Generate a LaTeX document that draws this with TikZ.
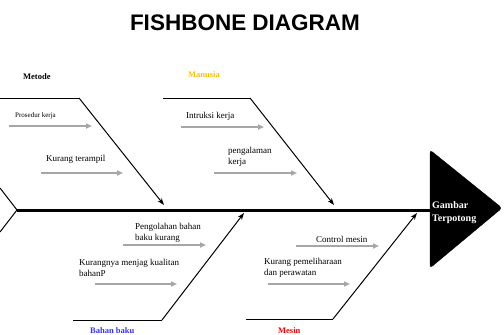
\documentclass[tikz,border=0pt]{standalone}
\usepackage{fontspec}
\setmainfont{Liberation Serif}
\newfontfamily\arialfont{Liberation Sans}
\usetikzlibrary{arrows.meta}
\definecolor{causegray}{HTML}{A6A6A6}
\definecolor{manorange}{HTML}{FFC000}
\definecolor{bahanblue}{HTML}{3333FF}
\definecolor{mesinred}{HTML}{FF0000}
\begin{document}
\begin{tikzpicture}[x=1pt,y=-1pt,
  bone/.style={line width=1pt, -{Stealth[length=7pt,width=5pt]}},
  plain/.style={line width=1pt},
  cause/.style={draw=causegray, line width=1.6pt, -{Triangle[length=6pt,width=5pt]}},
  lbl/.style={font=\fontsize{9}{10.5}\selectfont, inner sep=0pt, anchor=west, align=left},
  cat/.style={font=\fontsize{8.5}{10}\selectfont\bfseries, inner sep=0pt, anchor=west}]
\useasboundingbox (0,0) rectangle (504,335);

% title
\node[font=\arialfont\bfseries\fontsize{22.5}{26}\selectfont, inner sep=0pt] (title) at (245,23) {FISHBONE DIAGRAM};

% head
\draw[fill=black, rounded corners=3pt] (430,150) -- (502,208) -- (430,268) -- cycle;
\coordinate (head) at (430,210);
\node[font=\fontsize{10}{13}\selectfont\bfseries, text=white, align=left, anchor=west, inner sep=0pt] (effect) at (432,213) {Gambar\\Terpotong};

% spine and tail
\coordinate (tail) at (17,210);
\draw[line width=3pt] (tail) -- (head);
\coordinate (tu) at (0,188);
\coordinate (tb) at (0,232);
\draw[plain] (tu) -- (tail) -- (tb);

% Metode bone
\coordinate (m0) at (0,98);
\coordinate (m1) at (79,98);
\coordinate (m2) at (164,205);
\draw[plain] (m0) -- (m1);
\draw[bone] (m1) -- (m2);
\node[cat] (metode) at (23,77) {Metode};

% Manusia bone
\coordinate (h0) at (163,98);
\coordinate (h1) at (250,98);
\coordinate (h2) at (334,205);
\draw[plain] (h0) -- (h1);
\draw[bone] (h1) -- (h2);
\node[cat, text=manorange] (manusia) at (188,75) {Manusia};

% Bahan baku bone
\coordinate (b0) at (73,320);
\coordinate (b1) at (162,320);
\coordinate (b2) at (244,213);
\draw[plain] (b0) -- (b1);
\draw[bone] (b1) -- (b2);
\node[cat, text=bahanblue] (bahan) at (90,331) {Bahan baku};

% Mesin bone
\coordinate (s0) at (246,319);
\coordinate (s1) at (333,319);
\coordinate (s2) at (417,213);
\draw[plain] (s0) -- (s1);
\draw[bone] (s1) -- (s2);
\node[cat, text=mesinred] (mesin) at (278,331) {Mesin};

% causes: Metode
\node[lbl, font=\fontsize{7}{8}\selectfont] (c1) at (15,116) {Prosedur kerja};
\coordinate (c1a) at (9,126); \coordinate (c1b) at (92,126);
\draw[cause] (c1a) -- (c1b);
\node[lbl] (c2) at (46,159) {Kurang terampil};
\coordinate (c2a) at (41,173); \coordinate (c2b) at (123,173);
\draw[cause] (c2a) -- (c2b);

% causes: Manusia
\node[lbl] (c3) at (186,116) {Intruksi kerja};
\coordinate (c3a) at (181,127); \coordinate (c3b) at (264,127);
\draw[cause] (c3a) -- (c3b);
\node[lbl] (c4) at (228,157) {pengalaman\\kerja};
\coordinate (c4a) at (214,173); \coordinate (c4b) at (297,173);
\draw[cause] (c4a) -- (c4b);

% causes: Bahan baku
\node[lbl] (c5) at (135,233) {Pengolahan bahan\\baku kurang};
\coordinate (c5a) at (123,245); \coordinate (c5b) at (206,245);
\draw[cause] (c5a) -- (c5b);
\node[lbl] (c6) at (79,268) {Kurangnya menjag kualitan\\bahanP};
\coordinate (c6a) at (95,284); \coordinate (c6b) at (177,284);
\draw[cause] (c6a) -- (c6b);

% causes: Mesin
\node[lbl] (c7) at (316,239) {Control mesin};
\coordinate (c7a) at (296,246); \coordinate (c7b) at (379,246);
\draw[cause] (c7a) -- (c7b);
\node[lbl] (c8) at (264,268) {Kurang pemeliharaan\\dan perawatan};
\coordinate (c8a) at (268,284); \coordinate (c8b) at (350,284);
\draw[cause] (c8a) -- (c8b);
\end{tikzpicture}
\end{document}
